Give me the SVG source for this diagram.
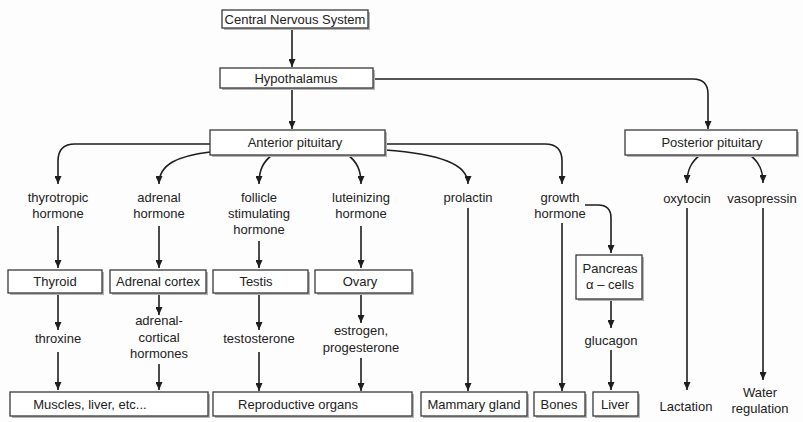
<svg xmlns="http://www.w3.org/2000/svg" width="803" height="422" viewBox="0 0 803 422">
<defs>
<marker id="ah" markerWidth="8" markerHeight="7" refX="8" refY="3.5" orient="auto" markerUnits="userSpaceOnUse"><path d="M0,0 L8,3.5 L0,7 z" fill="#1e1e1e"/></marker>
<style>
.bx{fill:#fff;stroke:#3a3a3a;stroke-width:1.3}
.sh{fill:#b5b5b5}
text{font-family:"Liberation Sans",Arial,sans-serif;font-size:13px;fill:#222;text-anchor:middle}
.c path{fill:none;stroke:#1e1e1e;stroke-width:1.6;marker-end:url(#ah)}
</style>
</defs>
<rect width="803" height="422" fill="#fdfdfd"/>
<g class="c" id="connectors">
<path d="M292,28 V67"/>
<path d="M292,88 V129"/>
<path d="M373,79 H693 Q708,79 708,94 V129"/>
<path d="M210,144 H75 Q58,144 58,161 V184"/>
<path d="M210,152 C178,156 159,164 159,184"/>
<path d="M272,155 C263,162 259,170 259,184"/>
<path d="M348,155 C357,162 361,170 361,184"/>
<path d="M385,150 C440,154 468,164 468,184"/>
<path d="M385,144 H545 Q562,144 562,161 V184"/>
<path d="M700,155 C691,162 687,170 687,183"/>
<path d="M750,155 C759,162 763,170 763,183"/>
<path d="M58,226 V268"/>
<path d="M159,226 V268"/>
<path d="M259,241 V268"/>
<path d="M361,226 V268"/>
<path d="M468,208 V391"/>
<path d="M562,223 V391"/>
<path d="M585,205 H598 Q611,205 611,218 V253"/>
<path d="M58,293 V330"/>
<path d="M58,352 V390"/>
<path d="M159,293 V315"/>
<path d="M159,364 V390"/>
<path d="M259,293 V330"/>
<path d="M259,352 V391"/>
<path d="M361,293 V323"/>
<path d="M361,358 V391"/>
<path d="M611,299 V328"/>
<path d="M611,350 V390"/>
<path d="M687,208 V390"/>
<path d="M763,208 V380"/>
</g>
<g id="cns"><rect class="sh" x="224" y="12" width="146" height="18"/><rect class="bx" x="222" y="10" width="146" height="18"/><text x="295" y="24">Central Nervous System</text></g>
<g id="hypothalamus"><rect class="sh" x="222" y="70" width="153" height="20"/><rect class="bx" x="220" y="68" width="153" height="20"/><text x="296" y="83">Hypothalamus</text></g>
<g id="anterior"><rect class="sh" x="212" y="132" width="175" height="25"/><rect class="bx" x="210" y="130" width="175" height="25"/><text x="295" y="147">Anterior pituitary</text></g>
<g id="posterior"><rect class="sh" x="627" y="132" width="172" height="25"/><rect class="bx" x="625" y="130" width="172" height="25"/><text x="712" y="147">Posterior pituitary</text></g>
<g id="thyrotropic"><text x="58" y="202">thyrotropic</text><text x="58" y="218">hormone</text></g>
<g id="adrenal-hormone"><text x="159" y="202">adrenal</text><text x="159" y="218">hormone</text></g>
<g id="fsh"><text x="259" y="202">follicle</text><text x="259" y="218">stimulating</text><text x="259" y="234">hormone</text></g>
<g id="lh"><text x="361" y="202">luteinizing</text><text x="361" y="218">hormone</text></g>
<g id="prolactin"><text x="468" y="202">prolactin</text></g>
<g id="growth"><text x="560" y="202">growth</text><text x="560" y="218">hormone</text></g>
<g id="oxytocin"><text x="687" y="203">oxytocin</text></g>
<g id="vasopressin"><text x="762" y="203">vasopressin</text></g>
<g id="thyroid"><rect class="sh" x="10" y="272" width="94" height="23"/><rect class="bx" x="8" y="270" width="94" height="23"/><text x="55" y="286">Thyroid</text></g>
<g id="adrenal-cortex"><rect class="sh" x="112" y="272" width="96" height="23"/><rect class="bx" x="110" y="270" width="96" height="23"/><text x="158" y="286">Adrenal cortex</text></g>
<g id="testis"><rect class="sh" x="215" y="272" width="95" height="23"/><rect class="bx" x="213" y="270" width="95" height="23"/><text x="256" y="286">Testis</text></g>
<g id="ovary"><rect class="sh" x="317" y="272" width="97" height="23"/><rect class="bx" x="315" y="270" width="97" height="23"/><text x="360" y="286">Ovary</text></g>
<g id="pancreas"><rect class="sh" x="578" y="257" width="66" height="44"/><rect class="bx" x="576" y="255" width="66" height="44"/><text x="610" y="273">Pancreas</text><text x="610" y="289">α – cells</text></g>
<g id="throxine"><text x="58" y="343">throxine</text></g>
<g id="adrenal-cortical"><text x="159" y="325">adrenal-</text><text x="159" y="342">cortical</text><text x="159" y="358">hormones</text></g>
<g id="testosterone"><text x="259" y="343">testosterone</text></g>
<g id="estrogen"><text x="361" y="335">estrogen,</text><text x="361" y="352">progesterone</text></g>
<g id="glucagon"><text x="611" y="345">glucagon</text></g>
<g id="muscles"><rect class="sh" x="12" y="394" width="198" height="24"/><rect class="bx" x="10" y="392" width="198" height="24"/><text x="90" y="409">Muscles, liver, etc...</text></g>
<g id="reproductive"><rect class="sh" x="215" y="394" width="199" height="24"/><rect class="bx" x="213" y="392" width="199" height="24"/><text x="298" y="409">Reproductive organs</text></g>
<g id="mammary"><rect class="sh" x="423" y="394" width="106" height="24"/><rect class="bx" x="421" y="392" width="106" height="24"/><text x="474" y="409">Mammary gland</text></g>
<g id="bones"><rect class="sh" x="536" y="394" width="51" height="24"/><rect class="bx" x="534" y="392" width="51" height="24"/><text x="559" y="409">Bones</text></g>
<g id="liver"><rect class="sh" x="595" y="394" width="45" height="24"/><rect class="bx" x="593" y="392" width="45" height="24"/><text x="615" y="409">Liver</text></g>
<g id="lactation"><text x="686" y="411">Lactation</text></g>
<g id="water"><text x="760" y="397">Water</text><text x="760" y="413">regulation</text></g>
</svg>
